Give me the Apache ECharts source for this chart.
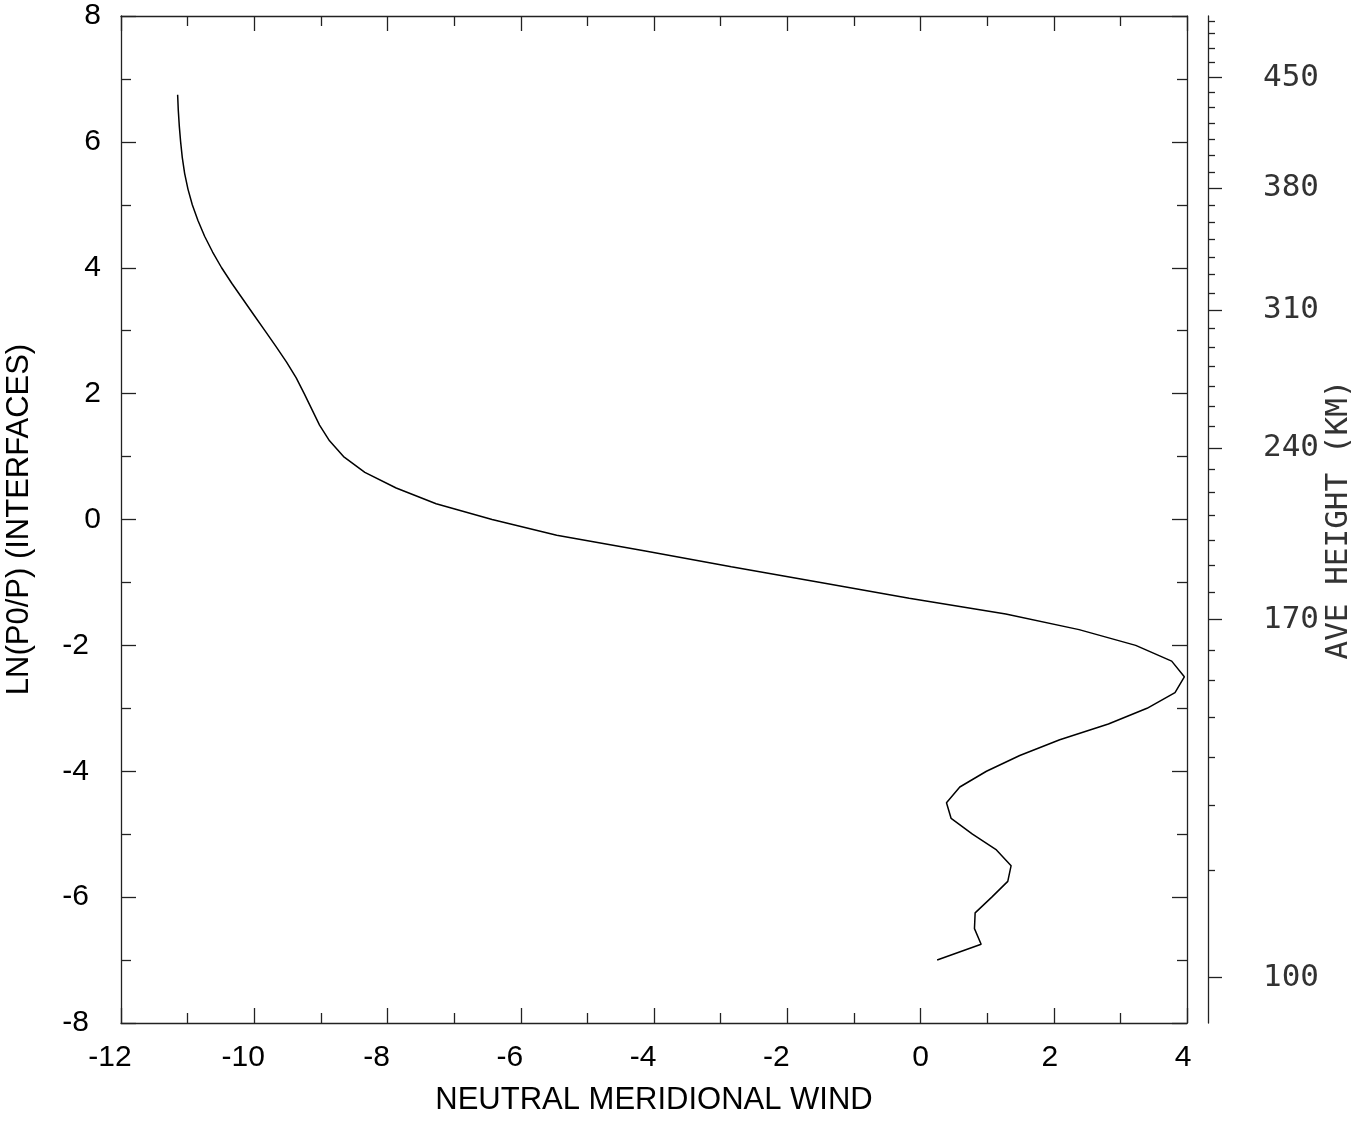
<!DOCTYPE html>
<html>
<head>
<meta charset="utf-8">
<script src="https://cdn.jsdelivr.net/npm/echarts@6/dist/echarts.min.js"></script>
<style>
html,body{margin:0;padding:0;background:#fff;}
#chart{width:1365px;height:1123px;}
</style>
</head>
<body>
<div id="chart"></div>
<script>
// ln(p0/p) interface levels (top to bottom)
const zLevels = [6.75,6.5,6.25,6.0,5.75,5.5,5.25,5.0,4.75,4.5,4.25,4.0,3.75,3.5,3.25,3.0,2.75,2.5,2.25,2.0,
  1.75,1.5,1.25,1.0,0.75,0.5,0.25,0.0,-0.25,-0.5,-0.75,-1.0,-1.25,-1.5,-1.75,-2.0,-2.25,-2.5,-2.75,-3.0,
  -3.25,-3.5,-3.75,-4.0,-4.25,-4.5,-4.75,-5.0,-5.25,-5.5,-5.75,-6.0,-6.25,-6.5,-6.75,-7.0];
// neutral meridional wind at each level
const windValues = [-11.15,-11.14,-11.125,-11.105,-11.08,-11.045,-10.995,-10.93,-10.845,-10.745,-10.625,-10.49,-10.335,-10.17,-10.005,-9.84,-9.675,-9.515,-9.37,-9.25,
  -9.135,-9.02,-8.87,-8.66,-8.34,-7.87,-7.27,-6.43,-5.46,-4.13,-2.84,-1.50,-0.17,1.28,2.38,3.23,3.77,3.96,3.82,3.40,
  2.82,2.09,1.49,0.99,0.59,0.39,0.46,0.78,1.14,1.36,1.31,1.07,0.82,0.81,0.91,0.25];

// axis ticks
const xTicks = [-12,-10,-8,-6,-4,-2,0,2,4];
const yTicks = [-8,-6,-4,-2,0,2,4,6,8];

// average height (km) axis: labelled ticks and their ln(p0/p) positions
const heightMajor = [100,170,240,310,380,450];
const heightMajorZ = [-7.28,-1.59,1.14,3.33,5.27,7.02];
const heightMinor = [110,120,130,140,150,160,180,190,200,210,220,230,250,260,270,280,290,300,
  320,330,340,350,360,370,390,400,410,420,430,440,460,470,480,490];
const heightMinorZ = [-5.58,-4.54,-3.78,-3.14,-2.55,-2.07,-1.15,-0.72,-0.33,0.07,0.44,0.80,
  1.475,1.805,2.125,2.435,2.74,3.035,3.60,3.89,4.17,4.45,4.73,4.99,5.52,5.79,6.04,6.30,6.545,6.79,
  7.26,7.49,7.72,7.92];

const seriesData = zLevels.map((z, i) => [windValues[i], z]);

const AX = '#222';
const sansFont = 'Liberation Sans, Arial, sans-serif';
const monoFont = 'DejaVu Sans Mono, monospace';

function xLabelFmt(v) {
  if (v < 0) return '{neg|' + v + '}';
  if (v > 0) return '{pos|' + v + '}';
  return '{zero|' + v + '}';
}
function yLabelFmt(v) {
  if (v < 0) return '{neg|' + v + '}';
  return '{pos|' + v + '}';
}

const chart = echarts.init(document.getElementById('chart'), null, {renderer: 'canvas'});
chart.setOption({
  animation: false,
  backgroundColor: '#fff',
  grid: {left: 121, right: 178, top: 16, bottom: 100, containLabel: false, outerBoundsMode: 'none'},
  xAxis: [
    {
      type: 'value', position: 'bottom', min: xTicks[0], max: xTicks[xTicks.length - 1], interval: 2,
      axisLine: {show: true, onZero: false, lineStyle: {color: AX, width: 1.3}},
      axisTick: {show: true, inside: true, length: 15, lineStyle: {color: AX, width: 1.3}},
      minorTick: {show: true, splitNumber: 2, length: 10, lineStyle: {color: AX, width: 1.3}},
      splitLine: {show: false},
      axisLabel: {
        show: true, margin: 20, color: '#000', fontFamily: sansFont, fontSize: 30,
        formatter: xLabelFmt,
        rich: {
          neg: {fontFamily: sansFont, fontSize: 30, color: '#000', padding: [0, 22, 0, 0]},
          pos: {fontFamily: sansFont, fontSize: 30, color: '#000', padding: [0, 8, 0, 0]},
          zero: {fontFamily: sansFont, fontSize: 30, color: '#000'}
        }
      },
      name: 'NEUTRAL MERIDIONAL WIND', nameLocation: 'middle', nameGap: 62, nameMoveOverlap: false,
      nameTextStyle: {fontFamily: sansFont, fontSize: 31, color: '#000'}
    },
    {
      type: 'value', position: 'top', min: -12, max: 4, interval: 2,
      axisLine: {show: true, onZero: false, lineStyle: {color: AX, width: 1.3}},
      axisTick: {show: true, inside: true, length: 15, lineStyle: {color: AX, width: 1.3}},
      minorTick: {show: true, splitNumber: 2, length: 10, lineStyle: {color: AX, width: 1.3}},
      splitLine: {show: false},
      axisLabel: {show: false}
    }
  ],
  yAxis: [
    {
      type: 'value', position: 'left', min: yTicks[0], max: yTicks[yTicks.length - 1], interval: 2,
      axisLine: {show: true, onZero: false, lineStyle: {color: AX, width: 1.3}},
      axisTick: {show: true, inside: true, length: 15, lineStyle: {color: AX, width: 1.3}},
      minorTick: {show: true, splitNumber: 2, length: 10, lineStyle: {color: AX, width: 1.3}},
      splitLine: {show: false},
      axisLabel: {
        show: true, margin: 20, color: '#000', fontFamily: sansFont, fontSize: 30,
        formatter: yLabelFmt,
        rich: {
          neg: {fontFamily: sansFont, fontSize: 30, color: '#000', padding: [0, 12, 0, 0]},
          pos: {fontFamily: sansFont, fontSize: 30, color: '#000'}
        }
      },
      name: 'LN(P0/P) (INTERFACES)', nameLocation: 'middle', nameGap: 86, nameRotate: 90, nameMoveOverlap: false,
      nameTextStyle: {fontFamily: sansFont, fontSize: 31, color: '#000'}
    },
    {
      type: 'value', position: 'right', min: -8, max: 8, interval: 2,
      axisLine: {show: true, onZero: false, lineStyle: {color: AX, width: 1.3}},
      axisTick: {show: true, inside: true, length: 15, lineStyle: {color: AX, width: 1.3}},
      minorTick: {show: true, splitNumber: 2, length: 10, lineStyle: {color: AX, width: 1.3}},
      splitLine: {show: false},
      axisLabel: {show: false}
    },
    {
      type: 'value', position: 'right', offset: 21, min: -8, max: 8,
      axisLine: {show: true, onZero: false, lineStyle: {color: AX, width: 1.3}},
      axisTick: {show: true, inside: false, length: 14, customValues: heightMajorZ, lineStyle: {color: AX, width: 1.3}},
      splitLine: {show: false},
      axisLabel: {
        show: true, margin: 55, color: '#333', fontFamily: monoFont, fontSize: 31,
        customValues: heightMajorZ,
        formatter: function (v) {
          let best = 0;
          for (let i = 1; i < heightMajorZ.length; i++) {
            if (Math.abs(heightMajorZ[i] - v) < Math.abs(heightMajorZ[best] - v)) best = i;
          }
          return String(heightMajor[best]);
        }
      },
      name: 'AVE HEIGHT (KM)', nameLocation: 'middle', nameGap: 115, nameRotate: 90, nameMoveOverlap: false,
      nameTextStyle: {fontFamily: monoFont, fontSize: 31, color: '#333'}
    },
    {
      type: 'value', position: 'right', offset: 21, min: -8, max: 8,
      axisLine: {show: false, onZero: false},
      axisTick: {show: true, inside: false, length: 7, customValues: heightMinorZ, lineStyle: {color: AX, width: 1.3}},
      splitLine: {show: false},
      axisLabel: {show: false}
    }
  ],
  series: [
    {
      type: 'line', xAxisIndex: 0, yAxisIndex: 0,
      data: seriesData,
      showSymbol: false, symbol: 'none', smooth: false,
      lineStyle: {color: '#000', width: 1.5},
      silent: true
    }
  ]
});
</script>
</body>
</html>
